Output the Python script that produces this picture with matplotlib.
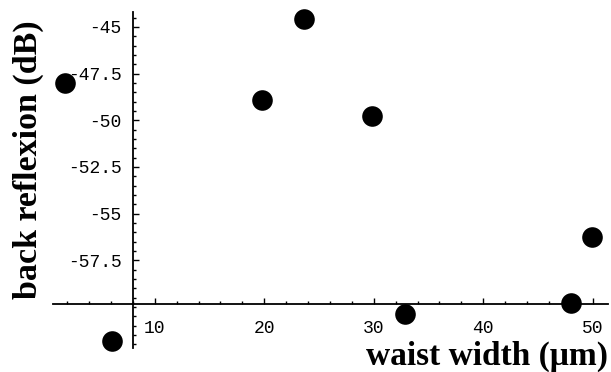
import matplotlib
matplotlib.use("Agg")
import matplotlib.pyplot as plt
from matplotlib.ticker import FixedLocator, MultipleLocator

# dati
waist_width = [1.8, 6.05, 19.75, 23.6, 29.85, 32.9, 48.05, 49.9]
back_reflexion = [-48.0, -61.85, -48.9, -44.6, -49.75, -60.4, -59.8, -56.25]

x_ticks = [10, 20, 30, 40, 50]
x_tick_labels = ["10", "20", "30", "40", "50"]
y_ticks = [-45, -47.5, -50, -52.5, -55, -57.5]
y_tick_labels = ["-45", "-47.5", "-50", "-52.5", "-55", "-57.5"]

fig = plt.figure(figsize=(6.11, 3.72), dpi=100)
ax = fig.add_axes([53 / 611, 24 / 372, 555 / 611, 336 / 372])

ax.scatter(waist_width, back_reflexion, s=220, color="black",
           zorder=5, clip_on=False, linewidths=0)

ax.set_xlim(0.7, 51.4)
ax.set_ylim(-62.2, -44.2)

# assi che si incrociano come in Mathematica
ax.spines["left"].set_position(("data", 8))
ax.spines["bottom"].set_position(("data", -59.86))
ax.spines["right"].set_visible(False)
ax.spines["top"].set_visible(False)
for s in ("left", "bottom"):
    ax.spines[s].set_linewidth(1.3)

ax.xaxis.set_major_locator(FixedLocator(x_ticks))
ax.set_xticklabels(x_tick_labels)
ax.xaxis.set_minor_locator(MultipleLocator(2))
ax.yaxis.set_major_locator(FixedLocator(y_ticks))
ax.set_yticklabels(y_tick_labels)
ax.yaxis.set_minor_locator(MultipleLocator(0.5))

ax.tick_params(which="both", direction="in", width=1.0, color="black")
ax.tick_params(which="major", length=4)
ax.tick_params(which="minor", length=2)
ax.tick_params(axis="x", which="major", pad=11)
ax.tick_params(axis="y", which="major", pad=8)
for lab in ax.get_xticklabels() + ax.get_yticklabels():
    lab.set_fontfamily("Liberation Mono")
    lab.set_fontsize(13)

fig.text(28 / 611, 1 - 160 / 372, "back reflexion (dB)", rotation=90,
         ha="center", va="center", fontsize=24.5, fontweight="bold",
         family="Liberation Serif")
fig.text(608 / 611, 1 - 356 / 372, "waist width (\u03bcm)",
         ha="right", va="center", fontsize=24, fontweight="bold",
         family="Liberation Serif")

fig.savefig("out.png", dpi=100)
